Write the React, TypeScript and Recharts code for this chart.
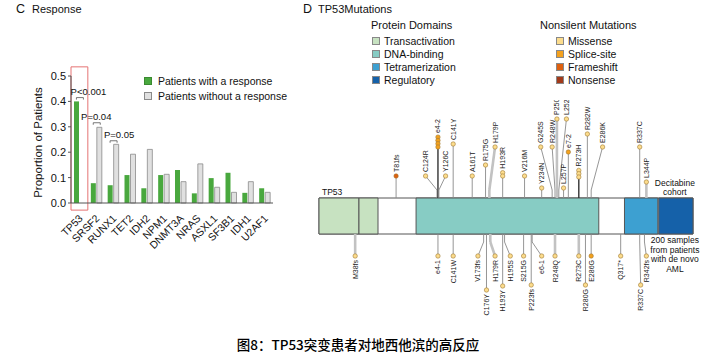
import {
  Bar,
  ComposedChart,
  Legend,
  ReferenceArea,
  ReferenceDot,
  ReferenceLine,
  Scatter,
  XAxis,
  YAxis,
} from "recharts";

const FONT = '"Liberation Sans", Arial, Helvetica, sans-serif';

// ---- panel C: response by mutated gene ----
const genes = ["TP53", "SRSF2", "RUNX1", "TET2", "IDH2", "NPM1", "DNMT3A", "NRAS", "ASXL1", "SF3B1", "IDH1", "U2AF1"];
const withResponse = [0.4, 0.078, 0.07, 0.11, 0.058, 0.11, 0.13, 0.038, 0.098, 0.119, 0.04, 0.058];
const withoutResponse = [0, 0.298, 0.231, 0.192, 0.211, 0.113, 0.084, 0.154, 0.062, 0.042, 0.084, 0.042];
const responseSeries = ["Patients with a response", "Patients without a response"];
const yTicks = [0, 0.1, 0.2, 0.3, 0.4, 0.5];
const pGenes = ["TP53", "SRSF2", "RUNX1"];
const pLevels = [0.415, 0.316, 0.245];
const pTexts = ["P<0.001", "P=0.04", "P=0.05"];

const responseRows = genes.map((gene, i) => ({
  gene,
  with: withResponse[i],
  without: withoutResponse[i],
}));

// ---- panel D: TP53 lollipop ----
const proteinLength = 393;
const domainTypes = ["Transactivation", "DNA-binding", "Tetramerization", "Regulatory"];
const mutationTypes = ["Missense", "Splice-site", "Frameshift", "Nonsense"];
const proteinDomains = [
  { type: "Transactivation", start: 0, end: 42 },
  { type: "Transactivation", start: 42, end: 62 },
  { type: "DNA-binding", start: 102, end: 294 },
  { type: "Tetramerization", start: 321, end: 356 },
  { type: "Regulatory", start: 357, end: 393 },
];

type Mutation = { label: string; pos: number; head: number; h: number; n: number; type: string };

const topMutations: Mutation[] = [
  { label: "T81fs", pos: 81, head: 81, h: 40, n: 1, type: "Frameshift" },
  { label: "C124R", pos: 124, head: 112, h: 40, n: 1, type: "Missense" },
  { label: "e4-2", pos: 125, head: 125, h: 69, n: 4, type: "Splice-site" },
  { label: "Y126C", pos: 126, head: 133, h: 40, n: 1, type: "Missense" },
  { label: "C141Y", pos: 141, head: 141, h: 72, n: 1, type: "Missense" },
  { label: "A161T", pos: 161, head: 161, h: 40, n: 1, type: "Missense" },
  { label: "R175G", pos: 175, head: 175, h: 51, n: 1, type: "Missense" },
  { label: "H179P", pos: 179, head: 185, h: 69, n: 1, type: "Missense" },
  { label: "H193R", pos: 193, head: 193, h: 40, n: 2, type: "Missense" },
  { label: "V216M", pos: 216, head: 216, h: 40, n: 1, type: "Missense" },
  { label: "Y234N", pos: 234, head: 234, h: 28, n: 1, type: "Missense" },
  { label: "G245S", pos: 245, head: 233, h: 69, n: 1, type: "Missense" },
  { label: "R248W", pos: 248, head: 245, h: 69, n: 1, type: "Missense" },
  { label: "P250L", pos: 250, head: 250, h: 97, n: 1, type: "Missense" },
  { label: "L252F", pos: 252, head: 260, h: 97, n: 1, type: "Missense" },
  { label: "L257P", pos: 257, head: 257, h: 28, n: 1, type: "Missense" },
  { label: "e7-2", pos: 262, head: 262, h: 64, n: 1, type: "Splice-site" },
  { label: "R273H", pos: 273, head: 273, h: 39, n: 3, type: "Missense" },
  { label: "R282W", pos: 282, head: 282, h: 82, n: 1, type: "Missense" },
  { label: "E286K", pos: 286, head: 298, h: 69, n: 1, type: "Missense" },
  { label: "R337C", pos: 337, head: 337, h: 69, n: 1, type: "Missense" },
  { label: "L344P", pos: 344, head: 344, h: 34, n: 1, type: "Missense" },
];

const bottomMutations: Mutation[] = [
  { label: "M38fs", pos: 38, head: 38, h: -40, n: 1, type: "Missense" },
  { label: "e4-1", pos: 125, head: 125, h: -40, n: 1, type: "Missense" },
  { label: "C141W", pos: 141, head: 141, h: -40, n: 1, type: "Missense" },
  { label: "V173fs", pos: 173, head: 167, h: -40, n: 1, type: "Missense" },
  { label: "C176Y", pos: 176, head: 176, h: -74, n: 1, type: "Missense" },
  { label: "H179R", pos: 180, head: 185, h: -40, n: 1, type: "Missense" },
  { label: "H193Y", pos: 193, head: 193, h: -70, n: 1, type: "Missense" },
  { label: "H195S", pos: 195, head: 201, h: -40, n: 1, type: "Missense" },
  { label: "S215G", pos: 215, head: 215, h: -40, n: 1, type: "Missense" },
  { label: "P223fs", pos: 223, head: 223, h: -69, n: 1, type: "Missense" },
  { label: "e6-1", pos: 224, head: 234, h: -40, n: 1, type: "Missense" },
  { label: "R248Q", pos: 248, head: 248, h: -40, n: 1, type: "Missense" },
  { label: "R273C", pos: 273, head: 273, h: -40, n: 1, type: "Missense" },
  { label: "R280G", pos: 280, head: 280, h: -69, n: 1, type: "Missense" },
  { label: "E286G", pos: 286, head: 286, h: -40, n: 1, type: "Splice-site" },
  { label: "Q317*", pos: 317, head: 317, h: -40, n: 1, type: "Missense" },
  { label: "R337C", pos: 337, head: 338, h: -69, n: 1, type: "Missense" },
  { label: "R342fs", pos: 342, head: 344, h: -40, n: 1, type: "Missense" },
];

const caption = "图8：TP53突变患者对地西他滨的高反应";

// ---- styling ----
const GREEN = "#49a83e";
const GREY_FILL = "#e0e0e0";
const GREY_STROKE = "#8a8a8a";
const domainColors: Record<string, string> = {
  Transactivation: "#c7e2c1",
  "DNA-binding": "#87ccc4",
  Tetramerization: "#3da0d1",
  Regulatory: "#1561a9",
};
const mutationColors: Record<string, string> = {
  Missense: "#fcdc8c",
  "Splice-site": "#f4a11d",
  Frameshift: "#de600f",
  Nonsense: "#a23a1a",
};
const heavyStems = ["P250L", "H179P", "R248Q", "L344P", "M38fs", "R273C", "H179R"];
const darkStems = ["e4-2", "R273H"];
const pLabelDx: Record<string, number> = { TP53: 9, SRSF2: 0, RUNX1: 6 };
const BAR_HALF = 18; // half height of protein bar in y units
const ELBOW = 8;

function GeneTick({ x, y, payload }: any) {
  return (
    <text
      transform={`translate(${x + 4},${y + 8}) rotate(-45)`}
      textAnchor="end"
      fontSize={10.5}
      fill="#111"
    >
      {payload.value}
    </text>
  );
}

function PBracket({ cx, cy, text, dx }: any) {
  return (
    <g>
      <path
        d={`M${cx - 3},${cy + 2}V${cy}H${cx + 4}V${cy + 2}`}
        stroke="#555"
        strokeWidth={0.8}
        fill="none"
      />
      <text x={cx + dx} y={cy - 3} textAnchor="middle" fontSize={9.5} fill="#111">
        {text}
      </text>
    </g>
  );
}

function ResponseLegend() {
  return (
    <div style={{ fontSize: 10.5, lineHeight: "15px", color: "#111", fontFamily: FONT }}>
      {responseSeries.map((name, i) => (
        <div key={name} style={{ display: "flex", alignItems: "center", whiteSpace: "nowrap" }}>
          <span
            style={{
              width: 6,
              height: 6,
              marginRight: 6,
              background: i === 0 ? GREEN : GREY_FILL,
              border: `0.5px solid ${i === 0 ? "#3a8a30" : GREY_STROKE}`,
            }}
          />
          {name}
        </div>
      ))}
    </div>
  );
}

function MutationLegend() {
  const rowTop = (i: number) => 16 + i * 13;
  const item = (name: string, color: string, i: number, left: number) => (
    <div
      key={name}
      style={{ position: "absolute", left, top: rowTop(i), display: "flex", alignItems: "center", whiteSpace: "nowrap", height: 13 }}
    >
      <span style={{ width: 6, height: 6, marginRight: 4, background: color, border: "0.8px solid #888" }} />
      {name}
    </div>
  );
  return (
    <div style={{ position: "relative", width: 330, height: 80, fontSize: 10.5, color: "#111", fontFamily: FONT }}>
      <div style={{ position: "absolute", left: 1, top: 0, fontSize: 11, lineHeight: "14px" }}>Protein Domains</div>
      <div style={{ position: "absolute", left: 170, top: 0, fontSize: 11, lineHeight: "14px" }}>Nonsilent Mutations</div>
      {domainTypes.map((d, i) => item(d, domainColors[d], i, 2))}
      {mutationTypes.map((m, i) => item(m, mutationColors[m], i, 186))}
    </div>
  );
}

function MutationHead({ cx, cy, payload }: any) {
  if (cx == null || cy == null) return null;
  const up = payload.h > 0;
  const dir = up ? -1 : 1;
  const step = 3.3;
  const circles = [];
  for (let i = payload.n - 1; i >= 0; i--) {
    circles.push(
      <circle
        key={i}
        cx={cx}
        cy={cy + dir * i * step}
        r={2.2}
        fill={mutationColors[payload.type]}
        stroke="#a07a35"
        strokeWidth={0.6}
      />,
    );
  }
  const edge = cy + dir * ((payload.n - 1) * step + 4);
  return (
    <g>
      {circles}
      <text
        transform={`translate(${cx + 2.5},${edge}) rotate(-90)`}
        textAnchor={up ? "start" : "end"}
        fontSize={7}
        fill="#222"
      >
        {payload.label}
      </text>
    </g>
  );
}

function ProteinTag({ viewBox }: any) {
  return (
    <text x={viewBox.x + 3} y={viewBox.y - 3} fontSize={8.5} fill="#111">
      TP53
    </text>
  );
}

function CohortNotes({ viewBox }: any) {
  const cx = viewBox.x + viewBox.width / 2 - 1;
  const top = ["Decitabine", "cohort"];
  const bottom = ["200 samples", "from patients", "with de novo", "AML"];
  return (
    <g fontSize={8.5} fill="#111" textAnchor="middle">
      {top.map((t, i) => (
        <text key={t} x={cx} y={viewBox.y - 12 + i * 9}>
          {t}
        </text>
      ))}
      {bottom.map((t, i) => (
        <text key={t} x={cx} y={viewBox.y + viewBox.height + 9 + i * 9.5}>
          {t}
        </text>
      ))}
    </g>
  );
}

function stemSegments(m: Mutation, key: string) {
  const s = m.h > 0 ? 1 : -1;
  const base = s * BAR_HALF;
  const elbow = s * (BAR_HALF + ELBOW);
  const heavy = heavyStems.includes(m.label);
  const dark = darkStems.includes(m.label);
  const stroke = heavy ? "#c2c2c2" : dark ? "#333" : "#8a8a8a";
  const width = heavy ? 2.6 : dark ? 1.4 : 0.9;
  return [
    <ReferenceLine
      key={key + "a"}
      segment={[{ x: m.pos, y: base }, { x: m.pos, y: elbow }]}
      stroke={stroke}
      strokeWidth={width}
      ifOverflow="visible"
    />,
    <ReferenceLine
      key={key + "b"}
      segment={[{ x: m.pos, y: elbow }, { x: m.head, y: m.h }]}
      stroke={stroke}
      strokeWidth={width}
      ifOverflow="visible"
    />,
  ];
}

export default function App() {
  return (
    <div
      style={{
        position: "absolute",
        left: 0,
        top: 0,
        width: 716,
        height: 362,
        background: "#fff",
        fontFamily: FONT,
        color: "#111",
        overflow: "hidden",
      }}
    >
      {/* panel titles */}
      <div style={{ position: "absolute", left: 16, top: 1, fontSize: 12.5, lineHeight: "16px" }}>C</div>
      <div style={{ position: "absolute", left: 32, top: 2, fontSize: 11, lineHeight: "14px" }}>Response</div>
      <div style={{ position: "absolute", left: 303, top: 1, fontSize: 12.5, lineHeight: "16px" }}>D</div>
      <div style={{ position: "absolute", left: 318, top: 2, fontSize: 11, lineHeight: "14px" }}>TP53Mutations</div>

      {/* panel C */}
      <div style={{ position: "absolute", left: 0, top: 0 }}>
        <ComposedChart
          width={300}
          height={263}
          data={responseRows}
          margin={{ top: 76, right: 27, bottom: 0, left: 1 }}
          barGap={1}
        >
          <XAxis
            dataKey="gene"
            height={60}
            interval={0}
            tick={<GeneTick />}
            tickLine={false}
            axisLine={{ stroke: "#555" }}
          />
          <YAxis
            width={70}
            domain={[0, 0.5]}
            ticks={yTicks}
            tickFormatter={(v) => Number(v).toFixed(1)}
            tick={{ fontSize: 11, fill: "#111" }}
            tickSize={3}
            tickLine={{ stroke: "#555" }}
            axisLine={{ stroke: "#555" }}
            label={({ viewBox }: any) => (
              <text
                transform={`translate(${viewBox.x + 41},${viewBox.y + viewBox.height / 2 + 3}) rotate(-90)`}
                textAnchor="middle"
                fontSize={11.5}
                fill="#111"
              >
                Proportion of Patients
              </text>
            )}
          />
          <ReferenceArea
            x1="TP53"
            x2="TP53"
            y1={-0.028}
            y2={0.536}
            ifOverflow="visible"
            fill="none"
            stroke="#e57373"
            strokeWidth={1}
          />
          <Bar
            dataKey="with"
            name={responseSeries[0]}
            fill={GREEN}
            barSize={5}
            isAnimationActive={false}
          />
          <Bar
            dataKey="without"
            name={responseSeries[1]}
            fill={GREY_FILL}
            stroke={GREY_STROKE}
            strokeWidth={0.8}
            barSize={5}
            isAnimationActive={false}
          />
          {pGenes.map((g, i) => (
            <ReferenceDot
              key={g}
              x={g}
              y={pLevels[i]}
              ifOverflow="visible"
              shape={(p: any) => <PBracket {...p} text={pTexts[i]} dx={pLabelDx[g]} />}
            />
          ))}
          <Legend
            layout="vertical"
            align="center"
            verticalAlign="middle"
            content={<ResponseLegend />}
            wrapperStyle={{ left: 144, top: 73.5, width: 150 }}
          />
        </ComposedChart>
      </div>

      {/* panel D */}
      <div style={{ position: "absolute", left: 300, top: 0 }}>
        <ComposedChart width={416} height={340} margin={{ top: 100, right: 23, bottom: 10, left: 19 }}>
          <XAxis type="number" dataKey="head" domain={[0, proteinLength]} hide allowDataOverflow />
          <YAxis type="number" dataKey="h" domain={[-114, 116]} hide allowDataOverflow />
          <ReferenceArea
            x1={0}
            x2={proteinLength}
            y1={-BAR_HALF}
            y2={BAR_HALF}
            fill="#fff"
            fillOpacity={1}
            stroke="#555"
            label={<ProteinTag />}
          />
          {proteinDomains.map((d, i) => (
            <ReferenceArea
              key={i}
              x1={d.start}
              x2={d.end}
              y1={-BAR_HALF}
              y2={BAR_HALF}
              fill={domainColors[d.type]}
              fillOpacity={1}
              stroke="#555"
              strokeWidth={1}
              label={d.type === "Regulatory" ? <CohortNotes /> : undefined}
            />
          ))}
          {topMutations.flatMap((m, i) => stemSegments(m, "t" + i))}
          {bottomMutations.flatMap((m, i) => stemSegments(m, "b" + i))}
          <Scatter
            data={topMutations}
            isAnimationActive={false}
            shape={(p: any) => <MutationHead {...p} />}
          />
          <Scatter
            data={bottomMutations}
            isAnimationActive={false}
            shape={(p: any) => <MutationHead {...p} />}
          />
          <Legend
            layout="vertical"
            align="center"
            verticalAlign="middle"
            content={<MutationLegend />}
            wrapperStyle={{ left: 70, top: 18, width: 330 }}
          />
        </ComposedChart>
      </div>

      <div
        style={{
          position: "absolute",
          left: 0,
          width: 716,
          top: 334,
          textAlign: "center",
          fontSize: 13.5,
          lineHeight: "20px",
          fontWeight: 500,
          fontFamily: '"Noto Sans CJK SC", "Noto Sans", sans-serif',
          color: "#000",
        }}
      >
        {caption}
      </div>
    </div>
  );
}
